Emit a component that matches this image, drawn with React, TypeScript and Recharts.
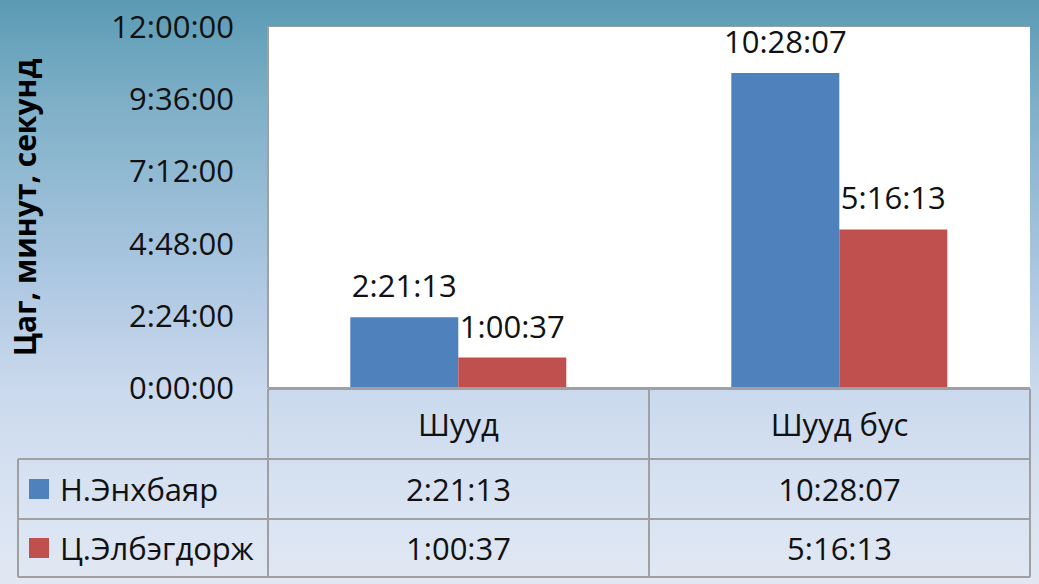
import { BarChart, Bar, XAxis, YAxis, CartesianGrid, LabelList } from "recharts"

const categories = ["Шууд", "Шууд бус"]
const seriesNames = ["Н.Энхбаяр", "Ц.Элбэгдорж"]
// durations in seconds
const enkhbayar = [2 * 3600 + 21 * 60 + 13, 10 * 3600 + 28 * 60 + 7]
const elbegdorj = [1 * 3600 + 0 * 60 + 37, 5 * 3600 + 16 * 60 + 13]
const yTicks = [0, 8640, 17280, 25920, 34560, 43200]
const colors = ["#4f81bd", "#c0504d"]

const FONT = "'Open Sans', 'Noto Sans', sans-serif"

const fmt = (v: number) => {
  const h = Math.floor(v / 3600)
  const m = Math.floor((v % 3600) / 60)
  const s = Math.round(v % 60)
  return `${h}:${String(m).padStart(2, "0")}:${String(s).padStart(2, "0")}`
}

const data = categories.map((c, i) => ({ name: c, a: enkhbayar[i], b: elbegdorj[i] }))
const seriesValues = [enkhbayar, elbegdorj]

const CategoryTick = (props: any) => {
  const { x, payload } = props
  return (
    <text x={x} y={424} textAnchor="middle" dominantBaseline="central" fontSize={31} fontFamily={FONT} fill="#111">
      {payload.value}
    </text>
  )
}

const line = "#a0a0a0"

export default function App() {
  const left = 268
  const mid = 649
  const right = 1030
  const rows = [389, 459, 519, 577]

  return (
    <div
      style={{
        position: "fixed",
        top: 0,
        left: 0,
        width: 1039,
        height: 584,
        background: "linear-gradient(to bottom, #5a9ab3 0%, #7fb0c8 18%, #a9c5df 45%, #ccdaee 68%, #d6e1f1 82%, #e1e8f3 100%)",
        fontFamily: FONT,
      }}
    >
      <BarChart
        width={1039}
        height={584}
        data={data}
        margin={{ top: 27, right: 9, bottom: 126, left: 0 }}
        barCategoryGap="21.6%"
        barGap={0}
      >
        <rect x={268} y={27} width={762} height={361} fill="#ffffff" />
        <CartesianGrid vertical={false} stroke={line} strokeWidth={1.5} />
        <YAxis
          width={268}
          domain={[0, 43200]}
          ticks={yTicks}
          tickFormatter={fmt}
          tickLine={false}
          tickSize={0}
          tickMargin={34}
          axisLine={{ stroke: line, strokeWidth: 2 }}
          tick={{ fontSize: 31, fill: "#111", fontFamily: FONT }}
          label={{
            value: "Цаг, минут, секунд",
            angle: -90,
            position: "insideLeft",
            dx: 20,
            dy: 0,
            style: { textAnchor: "middle", fontSize: 30, fontWeight: 700, fill: "#000", fontFamily: FONT },
          }}
          interval={0}
        />
        <XAxis
          dataKey="name"
          height={70}
          tickLine={false}
          axisLine={{ stroke: line, strokeWidth: 2 }}
          tick={<CategoryTick />}
          interval={0}
        />
        <Bar dataKey="a" name={seriesNames[0]} fill={colors[0]} isAnimationActive={false}>
          <LabelList dataKey="a" position="top" offset={20} formatter={(v: any) => fmt(Number(v))} fontSize={31} fill="#111" fontFamily={FONT} />
        </Bar>
        <Bar dataKey="b" name={seriesNames[1]} fill={colors[1]} isAnimationActive={false}>
          <LabelList dataKey="b" position="top" offset={20} formatter={(v: any) => fmt(Number(v))} fontSize={31} fill="#111" fontFamily={FONT} />
        </Bar>
      </BarChart>

      <svg width={1039} height={584} style={{ position: "absolute", top: 0, left: 0, pointerEvents: "none" }}>
        {/* table borders */}
        <line x1={left} y1={rows[0]} x2={right} y2={rows[0]} stroke={line} strokeWidth={2} />
        <line x1={18} y1={rows[1]} x2={right} y2={rows[1]} stroke={line} strokeWidth={2} />
        <line x1={18} y1={rows[2]} x2={right} y2={rows[2]} stroke={line} strokeWidth={2} />
        <line x1={18} y1={rows[3]} x2={right} y2={rows[3]} stroke={line} strokeWidth={2} />
        <line x1={18} y1={rows[1]} x2={18} y2={rows[3]} stroke={line} strokeWidth={2} />
        <line x1={left} y1={rows[0]} x2={left} y2={rows[3]} stroke={line} strokeWidth={2} />
        <line x1={mid} y1={rows[0]} x2={mid} y2={rows[3]} stroke={line} strokeWidth={2} />
        <line x1={right} y1={rows[0]} x2={right} y2={rows[3]} stroke={line} strokeWidth={2} />
        {seriesNames.map((n, r) => {
          const cy = (rows[r + 1] + rows[r + 2]) / 2
          return (
            <g key={n}>
              <rect x={29} y={cy - 10} width={20} height={20} fill={colors[r]} />
              <text x={60} y={cy} dominantBaseline="central" fontSize={31} fontFamily={FONT} fill="#111">
                {n}
              </text>
              {seriesValues[r].map((v, c) => (
                <text
                  key={c}
                  x={c === 0 ? (left + mid) / 2 : (mid + right) / 2}
                  y={cy}
                  textAnchor="middle"
                  dominantBaseline="central"
                  fontSize={31}
                  fontFamily={FONT}
                  fill="#111"
                >
                  {fmt(v)}
                </text>
              ))}
            </g>
          )
        })}
      </svg>
    </div>
  )
}
